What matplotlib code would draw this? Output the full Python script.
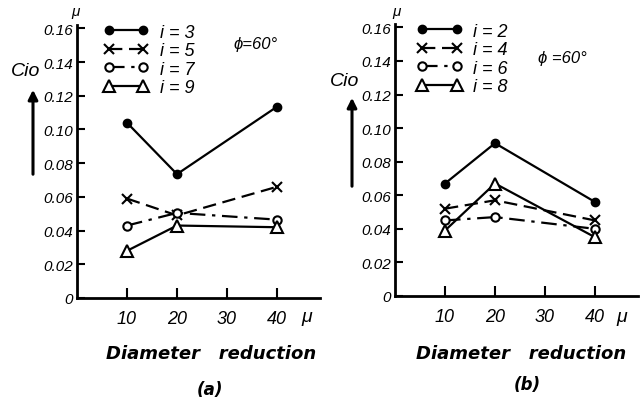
import matplotlib
matplotlib.use('Agg')
import matplotlib.pyplot as plt

plt.rcParams['font.family'] = ['Liberation Sans', 'DejaVu Sans']
plt.rcParams['font.style'] = 'italic'

# Daten (Durchmesserreduktion in µ)
x_vals = [10, 20, 40]
x_ticks = [10, 20, 30, 40]
y_ticks = [0, 0.02, 0.04, 0.06, 0.08, 0.10, 0.12, 0.14, 0.16]
y_ticklabels_a = ['0', '0.02', '0.04', '0.06', '0.08', '0.10', '0.12', '0.14', '0.16']
y_ticklabels_b = ['0', '0.02', '0.04', '0.06', '0.08', '0.10', '0.12', '0.14', '0.16']

# (a) ungerade i
labels_a = ['i = 3', 'i = 5', 'i = 7', 'i = 9']
cio_a3 = [0.104, 0.0735, 0.1135]
cio_a5 = [0.059, 0.049, 0.066]
cio_a7 = [0.043, 0.0505, 0.0465]
cio_a9 = [0.028, 0.043, 0.042]

# (b) gerade i
labels_b = ['i = 2', 'i = 4', 'i = 6', 'i = 8']
cio_b2 = [0.067, 0.091, 0.056]
cio_b4 = [0.052, 0.057, 0.045]
cio_b6 = [0.045, 0.047, 0.040]
cio_b8 = [0.039, 0.067, 0.035]

styles = [dict(ls='-', marker='o', mfc='black', ms=6),
          dict(ls=(0, (6, 3)), marker='x', mfc='none', ms=7, mew=1.5),
          dict(ls=(0, (7, 3, 1.5, 3)), marker='o', mfc='white', ms=6, mew=1.5),
          dict(ls='-', marker='^', mfc='white', ms=8, mew=1.5)]

W, H = 641, 402
fig = plt.figure(figsize=(W / 100, H / 100), dpi=100)

def px(x, y):
    return x / W, 1 - y / H

def setup(ax, series, labels, yticklabels, leg_anchor):
    for s, lab, st in zip(series, labels, styles):
        ax.plot(x_vals, s, color='black', lw=1.6, mec='black', label=lab, **st)
    ax.set_xlim(0, 48.6)
    ax.set_ylim(0, 0.162)
    ax.set_xticks(x_ticks)
    ax.set_xticklabels([str(t) for t in x_ticks])
    ax.set_yticks(y_ticks)
    ax.set_yticklabels(yticklabels)
    ax.spines['top'].set_visible(False)
    ax.spines['right'].set_visible(False)
    ax.spines['left'].set_linewidth(2)
    ax.spines['bottom'].set_linewidth(2)
    ax.tick_params(axis='y', direction='in', length=6, width=1.5, labelsize=11, pad=3)
    ax.tick_params(axis='x', direction='in', length=7, width=1.5, labelsize=13, pad=9)
    ax.legend(loc='upper left', bbox_to_anchor=leg_anchor, frameon=False,
              numpoints=2, handlelength=2.5, handletextpad=0.6,
              labelspacing=0.08, borderpad=0, borderaxespad=0, fontsize=13)

ax1 = fig.add_axes([77 / W, 103 / H, 243 / W, 273 / H])
setup(ax1, [cio_a3, cio_a5, cio_a7, cio_a9], labels_a, y_ticklabels_a, (0.11, 1.005))

ax2 = fig.add_axes([395 / W, 105 / H, 243 / W, 272 / H])
setup(ax2, [cio_b2, cio_b4, cio_b6, cio_b8], labels_b, y_ticklabels_b, (0.09, 1.005))

# Beschriftungen
for (tx, ty), s, fs in [((256, 45), 'ϕ=60°', 12), ((562, 58), 'ϕ =60°', 12),
                       ((26, 72), 'Cio', 14), ((345, 82), 'Cio', 14),
                       ((76, 12), 'μ', 11), ((397, 12), 'μ', 11),
                       ((307, 318), 'μ', 14), ((622, 318), 'μ', 14)]:
    fig.text(*px(tx, ty), s, ha='center', va='center', fontsize=fs)

fig.text(*px(211, 354), 'Diameter   reduction', ha='center', va='center',
         fontsize=13, fontweight='bold', family=['DejaVu Sans'])
fig.text(*px(521, 354), 'Diameter   reduction', ha='center', va='center',
         fontsize=13, fontweight='bold', family=['DejaVu Sans'])
fig.text(*px(210, 390), '(a)', ha='center', va='center', fontsize=12,
         fontweight='bold', family=['DejaVu Sans'])
fig.text(*px(527, 385), '(b)', ha='center', va='center', fontsize=12,
         fontweight='bold', family=['DejaVu Sans'])

# Pfeile neben Cio
for xa, y0, y1 in [(33, 178, 88), (352, 190, 96)]:
    fig.add_artist(matplotlib.patches.FancyArrowPatch(
        px(xa, y0), px(xa, y1), transform=fig.transFigure,
        arrowstyle='-|>', mutation_scale=14, lw=2.2, color='black'))

fig.savefig('out.png', dpi=100)
